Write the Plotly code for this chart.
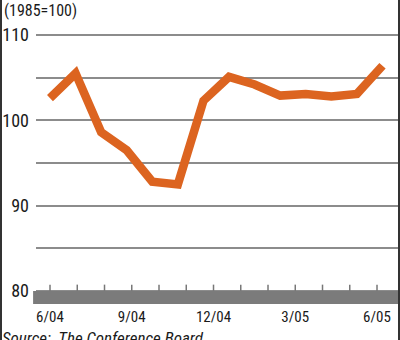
import plotly.graph_objects as go

# Consumer confidence index (1985=100), monthly 6/04 .. 7/05
values = [102.6, 105.5, 98.6, 96.5, 92.8, 92.5, 102.3, 105.1, 104.2, 102.9, 103.1, 102.8, 103.1, 106.4]
# Axis months 6/04 .. 6/05
month_ticks = list(range(13))
month_labels = ["6/04", "", "", "9/04", "", "", "12/04", "", "", "3/05", "", "", "6/05"]
y_ticks = [80, 85, 90, 95, 100, 105, 110]
y_labels = ["80", "", "90", "", "100", "", "110"]

FONT = "'Roboto Condensed', 'Liberation Sans Narrow', 'Arial Narrow', Roboto, sans-serif"
ORANGE = "#DC6420"
GRID = "#8c8c8c"
BAR = "#7b7b7b"

fig = go.Figure()
# invisible trace so the month axis is drawn
fig.add_trace(go.Scatter(
    x=month_ticks, y=[None] * len(month_ticks), xaxis="x", yaxis="y",
    mode="markers", marker=dict(opacity=0), hoverinfo="skip",
))
fig.add_trace(go.Scatter(
    x=list(range(len(values))), y=values, xaxis="x2", yaxis="y",
    mode="lines", line=dict(color=ORANGE, width=8.5), hoverinfo="skip",
))

shapes = [
    # gray base bar (80 down to bottom of plot)
    dict(type="rect", xref="paper", yref="y", x0=-0.008, x1=1.01, y0=78.48, y1=80,
         fillcolor=BAR, line=dict(width=0), layer="above"),
    # left and right frame lines
    dict(type="line", xref="paper", yref="paper", x0=-35/363, x1=-35/363, y0=-36/284, y1=20/284 + 1,
         line=dict(color="#333333", width=2)),
    dict(type="line", xref="paper", yref="paper", x0=1, x1=1, y0=-36/284, y1=20/284 + 1,
         line=dict(color="#333333", width=2)),
]
# small month tick marks sitting on top of the bar
for m in month_ticks:
    shapes.append(dict(type="line", xref="x", yref="y", x0=m, x1=m, y0=80, y1=80.75,
                       line=dict(color="#777777", width=1.5), layer="above"))

fig.update_layout(
    width=400, height=340,
    margin=dict(l=36, r=1, t=20, b=36),
    paper_bgcolor="white", plot_bgcolor="white",
    showlegend=False,
    font=dict(family=FONT, color="#1a1a1a"),
    xaxis=dict(
        range=[-0.514, 12.807], tickmode="array", tickvals=month_ticks, ticktext=month_labels,
        ticks="", showgrid=False, zeroline=False, showline=False,
        ticklabelstandoff=2,
        tickfont=dict(size=15, family=FONT, color="#1a1a1a"),
    ),
    xaxis2=dict(
        range=[-0.547, 13.645], overlaying="x", visible=False,
    ),
    yaxis=dict(
        range=[78.48, 111.76], tickmode="array", tickvals=y_ticks, ticktext=y_labels,
        showgrid=True, gridcolor=GRID, gridwidth=1.5, zeroline=False, showline=False,
        ticks="", ticklabelstandoff=6,
        tickfont=dict(size=18, family=FONT, color="#1a1a1a"),
    ),
    shapes=shapes,
    annotations=[
        dict(text="(1985=100)", xref="paper", yref="paper", x=-34/363, y=1 + 21/284,
             xanchor="left", yanchor="top", showarrow=False,
             font=dict(size=16, family=FONT, color="#1a1a1a")),
        dict(text="<i>Source:  The Conference Board</i>", xref="paper", yref="paper",
             x=-36/363, y=-22/284, xanchor="left", yanchor="top", showarrow=False,
             font=dict(size=17, family=FONT, color="#1a1a1a")),
    ],
)

fig.write_html(
    "out.html",
    config={"displayModeBar": False},
    post_script="document.body.style.margin='0';document.body.style.padding='0';document.body.style.overflow='hidden';",
)
